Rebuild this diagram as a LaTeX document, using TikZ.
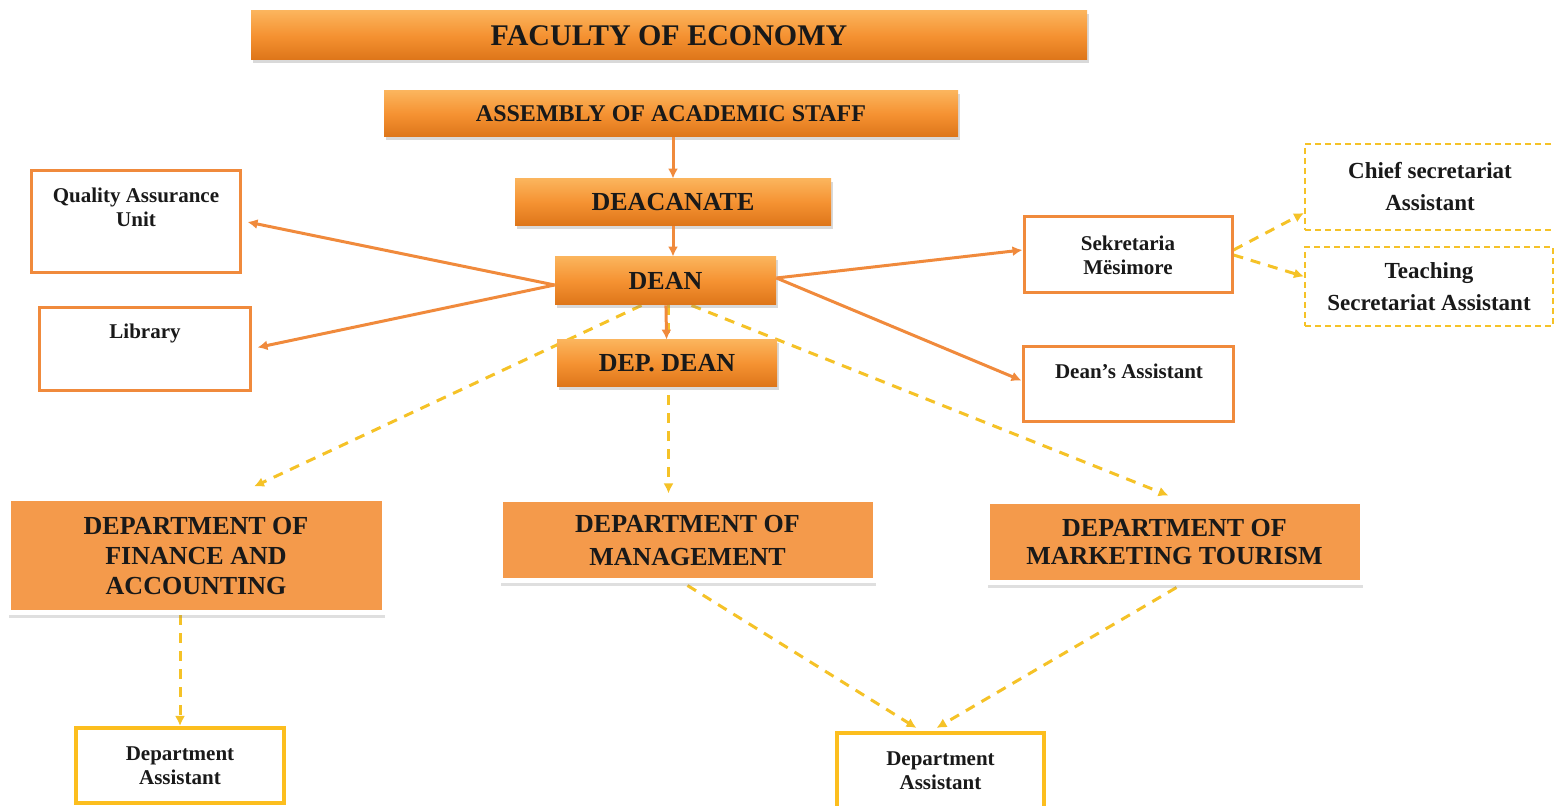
\documentclass[tikz,border=0pt]{standalone}
\usepackage{fontspec}
\setmainfont{Liberation Serif}
\usetikzlibrary{arrows.meta,shadows,backgrounds}
\definecolor{ortop}{HTML}{FBB45C}
\definecolor{ormid}{HTML}{F59232}
\definecolor{orbot}{HTML}{DD7519}
\definecolor{orfill}{HTML}{F49A4B}
\definecolor{orline}{HTML}{F08A3C}
\definecolor{yel}{HTML}{F5C227}
\definecolor{yelbox}{HTML}{FCBE1E}
\begin{document}
\begin{tikzpicture}[x=0.5pt, y=-0.5pt, font=\bfseries, text=black!90,
  bar/.style={inner sep=0pt, top color=ortop, bottom color=orbot, middle color=ormid,
    drop shadow={opacity=0.3, shadow xshift=1pt, shadow yshift=-1.5pt}},
  unit/.style={draw=orline, line width=1.5pt, fill=white, inner sep=0pt, align=center,
    font=\bfseries\fontsize{10.5}{12}\selectfont},
  secr/.style={draw=yel, line width=1pt, dash pattern=on 3pt off 2pt, inner sep=0pt,
    align=center, font=\bfseries\fontsize{11.5}{16}\selectfont},
  dept/.style={fill=orfill, draw=white, line width=2.5pt, inner sep=0pt, align=center,
    drop shadow={opacity=0.25, shadow xshift=0.5pt, shadow yshift=-2.5pt},
    font=\bfseries\fontsize{13}{15}\selectfont},
  helper/.style={draw=yelbox, line width=2pt, fill=white, inner sep=0pt, align=center,
    font=\bfseries\fontsize{10.5}{12}\selectfont}]

\useasboundingbox (0,0) rectangle (1554,806);

% top line of command
\node[bar, minimum width=418pt, minimum height=24.5pt, font=\bfseries\fontsize{15}{18}\selectfont] (fac) at (669,35.5) {FACULTY OF ECONOMY};
\node[bar, minimum width=287pt, minimum height=23pt, font=\bfseries\fontsize{12}{14}\selectfont] (asm) at (671,114) {ASSEMBLY OF ACADEMIC STAFF};
\node[bar, minimum width=158pt, minimum height=23.5pt, font=\bfseries\fontsize{13}{15}\selectfont] (dcn) at (673,202.5) {DEACANATE};
\node[bar, minimum width=110.5pt, minimum height=24pt, font=\bfseries\fontsize{13}{15}\selectfont] (dean) at (665.5,281) {DEAN};
\node[bar, minimum width=110pt, minimum height=23.5pt, font=\bfseries\fontsize{13}{15}\selectfont] (dep) at (667,363.5) {DEP. DEAN};

% units beside the dean
\node[unit, minimum width=104.5pt, minimum height=51pt] (qau) at (135.5,222) {};
\node[font=\bfseries\fontsize{10.5}{12}\selectfont, align=center] (qaut) at (136,207) {Quality Assurance\\Unit};
\node[unit, minimum width=105.5pt, minimum height=41.5pt] (lib) at (144.5,349.5) {};
\node[font=\bfseries\fontsize{10.5}{12}\selectfont] (libt) at (145,333) {Library};
\node[unit, minimum width=104pt, minimum height=38pt] (sek) at (1128,255) {Sekretaria\\Mësimore};
\node[unit, minimum width=105pt, minimum height=37.5pt] (da) at (1128,384.5) {};
\node[font=\bfseries\fontsize{10.5}{12}\selectfont] (dat) at (1129,371) {Dean’s Assistant};
\node[secr, minimum width=125pt, minimum height=43pt] (chief) at (1430,187) {Chief secretariat\\Assistant};
\node[secr, minimum width=124pt, minimum height=39.5pt] (teach) at (1429,286.5) {Teaching\\Secretariat Assistant};

% departments
\node[dept, minimum width=188pt, minimum height=57pt] (fin) at (196,556) {DEPARTMENT OF\\FINANCE AND\\ACCOUNTING};
\node[dept, minimum width=187.5pt, minimum height=40.5pt, font=\bfseries\fontsize{13}{16.5}\selectfont] (mgmt) at (687.5,540.5) {DEPARTMENT OF\\MANAGEMENT};
\node[dept, minimum width=187.5pt, minimum height=40.5pt, font=\bfseries\fontsize{13}{14}\selectfont] (mkt) at (1174.5,542.5) {DEPARTMENT OF\\MARKETING TOURISM};
\node[helper, minimum width=104pt, minimum height=37.5pt] (as1) at (180,765.5) {Department\\Assistant};
\node[helper, minimum width=103.5pt, minimum height=37.5pt] (as2) at (940.5,770.5) {Department\\Assistant};

\begin{scope}[-{Latex[length=5pt,width=5pt]}, orline, line width=1.5pt]
\draw (asm.south -| dcn.north) -- (dcn.north);
\draw (dcn.south) -- (dcn.south |- dean.north);
\draw (dean) -- (dep);
\draw ([yshift=-2pt]dean.west) -- ([xshift=3pt]qau.east);
\draw ([yshift=-2pt]dean.west) -- ([xshift=3pt,yshift=1pt]lib.east);
\draw ([yshift=1.5pt]dean.east) -- ([yshift=2.5pt]sek.west);
\draw ([yshift=1.5pt]dean.east) -- ([yshift=2pt]da.west);
\end{scope}

\begin{scope}[on background layer]
\begin{scope}[-{Latex[length=5pt,width=5pt]}, draw=yel, line width=1.5pt, dash pattern=on 5pt off 4pt]
\draw ([xshift=-12pt]dean.south) -- ([xshift=29pt,yshift=5pt]fin.north);
\draw ([xshift=1.5pt]dean.south) -- ([xshift=-9.5pt,yshift=2pt]mgmt.north);
\draw ([xshift=13pt]dean.south) -- ([xshift=-3pt,yshift=2pt]mkt.north);
\draw ([yshift=2.5pt]sek.east) -- ([yshift=-13pt]chief.west);
\draw (sek.east) -- ([yshift=5pt]teach.west);
\draw (as1 |- fin.south) -- (as1.north);
\draw ([yshift=-1pt]mgmt.south) -- ([xshift=-12pt,yshift=1.5pt]as2.north);
\draw ([xshift=1pt,yshift=-1pt]mkt.south) -- ([xshift=-2pt,yshift=1.5pt]as2.north);
\end{scope}
\end{scope}
\end{tikzpicture}
\end{document}
